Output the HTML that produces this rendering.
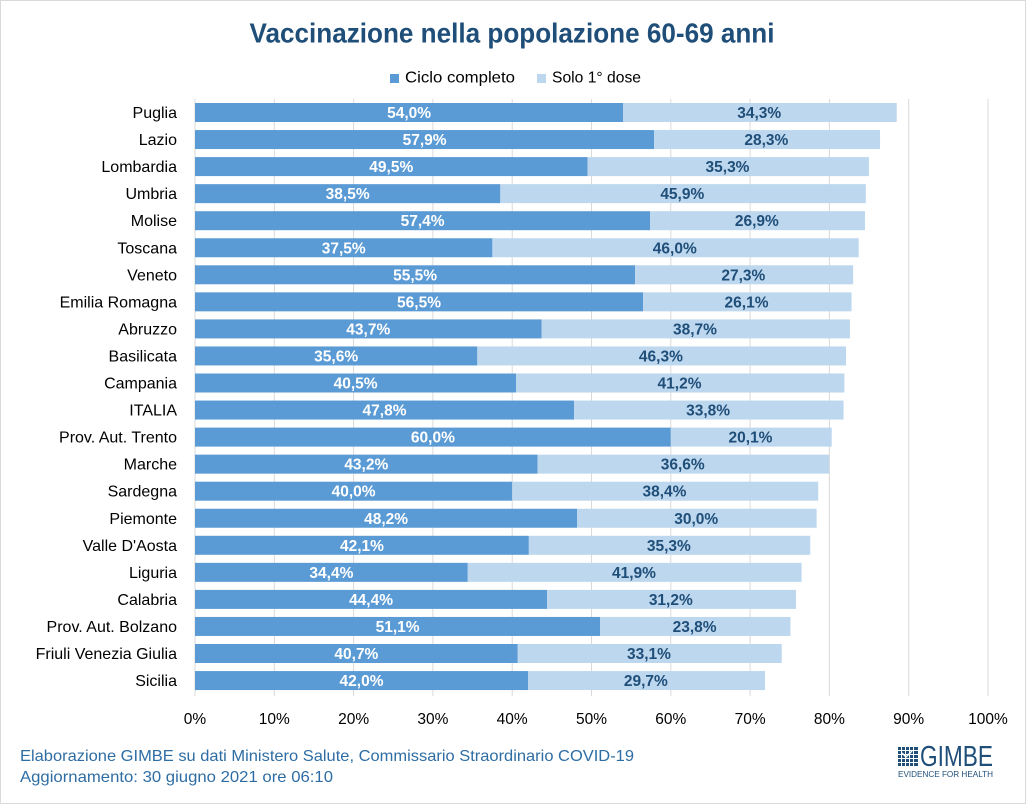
<!DOCTYPE html>
<html><head><meta charset="utf-8"><style>
html,body{margin:0;padding:0;background:#fff}
svg{display:block}
text{font-family:"Liberation Sans",sans-serif}
</style></head><body>
<svg width="1026" height="804" viewBox="0 0 1026 804" xmlns="http://www.w3.org/2000/svg">
<rect x="0.5" y="0.5" width="1025" height="803" fill="#fff" stroke="#D9D9D9"/>
<text x="512" y="42.5" text-anchor="middle" font-size="28" font-weight="bold" fill="#1F4E79" textLength="525" lengthAdjust="spacingAndGlyphs">Vaccinazione nella popolazione 60-69 anni</text>
<rect x="390" y="74" width="9" height="9" fill="#5B9BD5"/>
<text x="405" y="82.5" font-size="16" fill="#000" textLength="110" lengthAdjust="spacingAndGlyphs">Ciclo completo</text>
<rect x="537" y="74" width="9" height="9" fill="#BDD7EE"/>
<text x="552" y="82.5" font-size="16" fill="#000" textLength="89" lengthAdjust="spacingAndGlyphs">Solo 1° dose</text>
<g stroke="#D9D9D9" stroke-width="1">
<line x1="195" y1="99" x2="195" y2="696"/>
<line x1="274.3" y1="99" x2="274.3" y2="696"/>
<line x1="353.6" y1="99" x2="353.6" y2="696"/>
<line x1="432.9" y1="99" x2="432.9" y2="696"/>
<line x1="512.2" y1="99" x2="512.2" y2="696"/>
<line x1="591.5" y1="99" x2="591.5" y2="696"/>
<line x1="670.8" y1="99" x2="670.8" y2="696"/>
<line x1="750.1" y1="99" x2="750.1" y2="696"/>
<line x1="829.4" y1="99" x2="829.4" y2="696"/>
<line x1="908.7" y1="99" x2="908.7" y2="696"/>
<line x1="988" y1="99" x2="988" y2="696"/>
</g>
<g fill="#5B9BD5">
<rect x="195" y="103" width="428.22" height="19"/>
<rect x="195" y="130.05" width="459.15" height="19"/>
<rect x="195" y="157.1" width="392.54" height="19"/>
<rect x="195" y="184.15" width="305.31" height="19"/>
<rect x="195" y="211.2" width="455.18" height="19"/>
<rect x="195" y="238.25" width="297.38" height="19"/>
<rect x="195" y="265.3" width="440.12" height="19"/>
<rect x="195" y="292.35" width="448.05" height="19"/>
<rect x="195" y="319.4" width="346.54" height="19"/>
<rect x="195" y="346.45" width="282.31" height="19"/>
<rect x="195" y="373.5" width="321.17" height="19"/>
<rect x="195" y="400.55" width="379.05" height="19"/>
<rect x="195" y="427.6" width="475.8" height="19"/>
<rect x="195" y="454.65" width="342.58" height="19"/>
<rect x="195" y="481.7" width="317.2" height="19"/>
<rect x="195" y="508.75" width="382.23" height="19"/>
<rect x="195" y="535.8" width="333.85" height="19"/>
<rect x="195" y="562.85" width="272.79" height="19"/>
<rect x="195" y="589.9" width="352.09" height="19"/>
<rect x="195" y="616.95" width="405.22" height="19"/>
<rect x="195" y="644" width="322.75" height="19"/>
<rect x="195" y="671.05" width="333.06" height="19"/>
</g>
<g fill="#BDD7EE">
<rect x="623.22" y="103" width="273.5" height="19"/>
<rect x="654.15" y="130.05" width="225.9" height="19"/>
<rect x="587.54" y="157.1" width="281.4" height="19"/>
<rect x="500.31" y="184.15" width="365.5" height="19"/>
<rect x="650.18" y="211.2" width="214.8" height="19"/>
<rect x="492.38" y="238.25" width="366.3" height="19"/>
<rect x="635.12" y="265.3" width="218" height="19"/>
<rect x="643.05" y="292.35" width="208.5" height="19"/>
<rect x="541.54" y="319.4" width="308.4" height="19"/>
<rect x="477.31" y="346.45" width="368.7" height="19"/>
<rect x="516.17" y="373.5" width="328.2" height="19"/>
<rect x="574.05" y="400.55" width="269.5" height="19"/>
<rect x="670.8" y="427.6" width="160.9" height="19"/>
<rect x="537.58" y="454.65" width="291.7" height="19"/>
<rect x="512.2" y="481.7" width="306" height="19"/>
<rect x="577.23" y="508.75" width="239.4" height="19"/>
<rect x="528.85" y="535.8" width="281.4" height="19"/>
<rect x="467.79" y="562.85" width="333.8" height="19"/>
<rect x="547.09" y="589.9" width="248.9" height="19"/>
<rect x="600.22" y="616.95" width="190.2" height="19"/>
<rect x="517.75" y="644" width="264" height="19"/>
<rect x="528.06" y="671.05" width="237" height="19"/>
</g>
<g font-size="16" fill="#000" text-anchor="end">
<text x="177" y="118">Puglia</text>
<text x="177" y="145.05">Lazio</text>
<text x="177" y="172.1">Lombardia</text>
<text x="177" y="199.15">Umbria</text>
<text x="177" y="226.2">Molise</text>
<text x="177" y="253.25">Toscana</text>
<text x="177" y="280.3">Veneto</text>
<text x="177" y="307.35">Emilia Romagna</text>
<text x="177" y="334.4">Abruzzo</text>
<text x="177" y="361.45">Basilicata</text>
<text x="177" y="388.5">Campania</text>
<text x="177" y="415.55">ITALIA</text>
<text x="177" y="442.6">Prov. Aut. Trento</text>
<text x="177" y="469.65">Marche</text>
<text x="177" y="496.7">Sardegna</text>
<text x="177" y="523.75">Piemonte</text>
<text x="177" y="550.8">Valle D'Aosta</text>
<text x="177" y="577.85">Liguria</text>
<text x="177" y="604.9">Calabria</text>
<text x="177" y="631.95">Prov. Aut. Bolzano</text>
<text x="177" y="659">Friuli Venezia Giulia</text>
<text x="177" y="686.05">Sicilia</text>
</g>
<g font-size="15.5" font-weight="bold" fill="#fff" text-anchor="middle">
<text x="409.11" y="118">54,0%</text>
<text x="424.57" y="145.05">57,9%</text>
<text x="391.27" y="172.1">49,5%</text>
<text x="347.65" y="199.15">38,5%</text>
<text x="422.59" y="226.2">57,4%</text>
<text x="343.69" y="253.25">37,5%</text>
<text x="415.06" y="280.3">55,5%</text>
<text x="419.02" y="307.35">56,5%</text>
<text x="368.27" y="334.4">43,7%</text>
<text x="336.15" y="361.45">35,6%</text>
<text x="355.58" y="388.5">40,5%</text>
<text x="384.53" y="415.55">47,8%</text>
<text x="432.9" y="442.6">60,0%</text>
<text x="366.29" y="469.65">43,2%</text>
<text x="353.6" y="496.7">40,0%</text>
<text x="386.11" y="523.75">48,2%</text>
<text x="361.93" y="550.8">42,1%</text>
<text x="331.4" y="577.85">34,4%</text>
<text x="371.05" y="604.9">44,4%</text>
<text x="397.61" y="631.95">51,1%</text>
<text x="356.38" y="659">40,7%</text>
<text x="361.53" y="686.05">42,0%</text>
</g>
<g font-size="15.5" font-weight="bold" fill="#1F4E79" text-anchor="middle">
<text x="759.22" y="118">34,3%</text>
<text x="766.36" y="145.05">28,3%</text>
<text x="727.5" y="172.1">35,3%</text>
<text x="682.3" y="199.15">45,9%</text>
<text x="756.84" y="226.2">26,9%</text>
<text x="674.77" y="253.25">46,0%</text>
<text x="743.36" y="280.3">27,3%</text>
<text x="746.53" y="307.35">26,1%</text>
<text x="694.98" y="334.4">38,7%</text>
<text x="660.89" y="361.45">46,3%</text>
<text x="679.53" y="388.5">41,2%</text>
<text x="708.07" y="415.55">33,8%</text>
<text x="750.5" y="442.6">20,1%</text>
<text x="682.7" y="469.65">36,6%</text>
<text x="664.46" y="496.7">38,4%</text>
<text x="696.18" y="523.75">30,0%</text>
<text x="668.82" y="550.8">35,3%</text>
<text x="633.93" y="577.85">41,9%</text>
<text x="670.8" y="604.9">31,2%</text>
<text x="694.59" y="631.95">23,8%</text>
<text x="648.99" y="659">33,1%</text>
<text x="645.82" y="686.05">29,7%</text>
</g>
<g font-size="15.5" fill="#000" text-anchor="middle">
<text x="195" y="724">0%</text>
<text x="274.3" y="724">10%</text>
<text x="353.6" y="724">20%</text>
<text x="432.9" y="724">30%</text>
<text x="512.2" y="724">40%</text>
<text x="591.5" y="724">50%</text>
<text x="670.8" y="724">60%</text>
<text x="750.1" y="724">70%</text>
<text x="829.4" y="724">80%</text>
<text x="908.7" y="724">90%</text>
<text x="988" y="724">100%</text>
</g>
<text x="20" y="761" font-size="16" fill="#2E6DA4" textLength="614" lengthAdjust="spacingAndGlyphs">Elaborazione GIMBE su dati Ministero Salute, Commissario Straordinario COVID-19</text>
<text x="20" y="782" font-size="16" fill="#2E6DA4" textLength="313" lengthAdjust="spacingAndGlyphs">Aggiornamento: 30 giugno 2021 ore 06:10</text>
<g>
<rect x="898" y="747" width="20" height="19" fill="#1F4E79"/>
<g stroke="#fff" stroke-width="1">
<line x1="901.5" y1="747" x2="901.5" y2="766"/>
<line x1="905.5" y1="747" x2="905.5" y2="766"/>
<line x1="909.5" y1="747" x2="909.5" y2="766"/>
<line x1="913.5" y1="747" x2="913.5" y2="766"/>
<line x1="898" y1="750.5" x2="918" y2="750.5"/>
<line x1="898" y1="754.5" x2="918" y2="754.5"/>
<line x1="898" y1="758.5" x2="918" y2="758.5"/>
<line x1="898" y1="762.5" x2="918" y2="762.5"/>
</g>
<path d="M902 753 L906 757 L912 751" stroke="#fff" stroke-width="1.5" fill="none"/>
<text x="920" y="766" font-family="Liberation Serif, serif" font-size="29" fill="#1F4E79" textLength="73" lengthAdjust="spacingAndGlyphs">GIMBE</text>
<text x="898" y="777" font-size="8.5" fill="#1F4E79" textLength="95" lengthAdjust="spacingAndGlyphs">EVIDENCE FOR HEALTH</text>
</g>
</svg>
</body></html>
